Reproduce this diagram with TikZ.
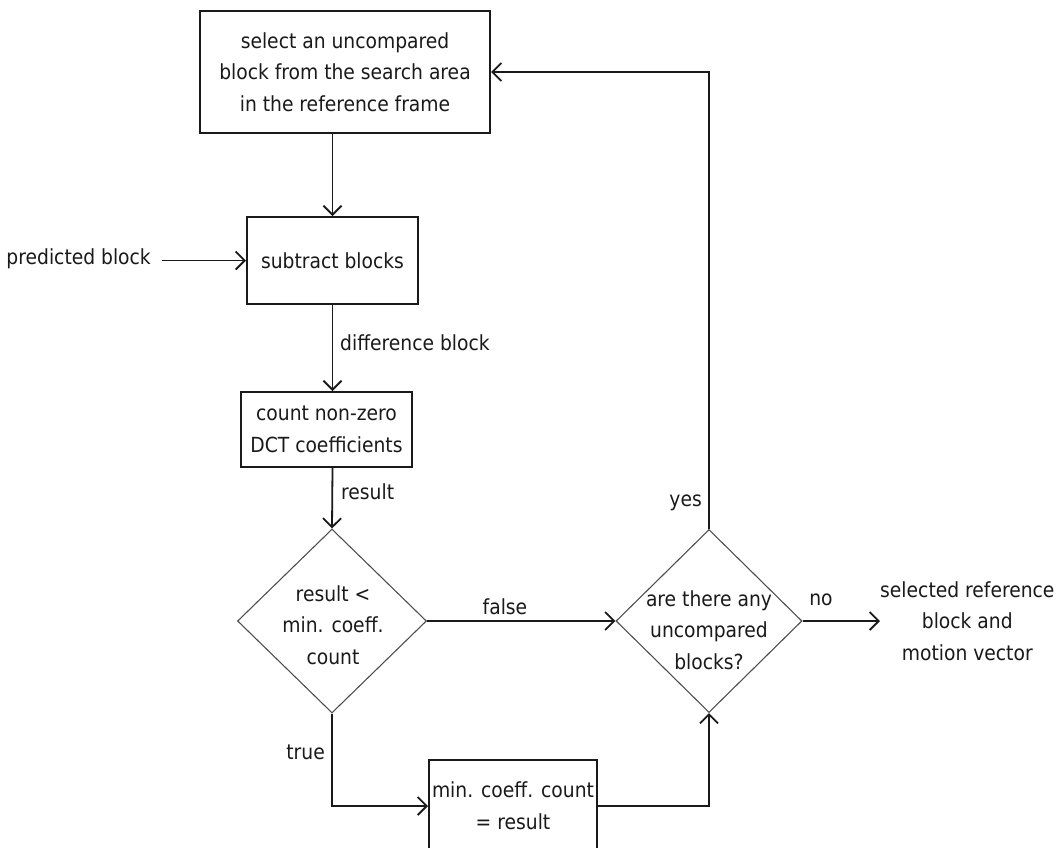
\documentclass[tikz,border=0pt]{standalone}
\usepackage{fontspec}
\setmainfont{DejaVu Sans Condensed}
\usetikzlibrary{arrows.meta,shapes.geometric}
\definecolor{ink}{HTML}{1A1A1A}
\definecolor{dia}{HTML}{505050}
\begin{document}
\begin{tikzpicture}[x=1pt,y=-1pt,
  every node/.style={font=\fontsize{20.8}{31.7}\selectfont, text=ink},
  box/.style={draw=ink, line width=2pt, rectangle, inner sep=0pt, align=center},
  dmd/.style={draw=dia, line width=1.1pt, diamond, inner sep=0pt},
  lbl/.style={inner sep=0pt},
  arr/.style={draw=ink, line width=1.8pt, -{Straight Barb[length=9pt,width=18pt]}}]
\useasboundingbox (0,0) rectangle (1058,847);
\clip (0,0) rectangle (1058,847);
\fill[white] (0,0) rectangle (1058,847);
% nodes
\node[box, minimum width=290pt, minimum height=122pt] (top) at (345,72) {select an uncompared\\block from the search area\\in the reference frame};
\node[box, minimum width=171pt, minimum height=87pt] (sub) at (332.5,260.5) {subtract blocks};
\node[box, minimum width=171pt, minimum height=75pt] (cnt) at (326.5,429.5) {count non-zero\\DCT coefficients};
\node[dmd, minimum width=189pt, minimum height=184pt] (d1) at (332,621) {};
\node[lbl, align=center] (t1) at (333,625) {result <\\min. coeff.\\count};
\node[dmd, minimum width=186pt, minimum height=183pt] (d2) at (709,621) {};
\node[lbl, align=center] (t2) at (709,630) {are there any\\uncompared\\blocks?};
\node[box, minimum width=168pt, minimum height=92pt] (min) at (513,806) {min. coeff. count\\= result};
\node[lbl, anchor=east] (pb) at (151,259) {predicted block};
\node[lbl, anchor=west, align=center] (out) at (880,621) {selected reference\\block and\\motion vector};
% labels
\node[lbl, anchor=west] (ldiff) at (340,343) {difference block};
\node[lbl, anchor=west] (lres) at (341,492) {result};
\node[lbl, anchor=east] (lyes) at (702,503) {yes};
\node[lbl] (lfalse) at (505,607) {false};
\node[lbl] (lno) at (821,600) {no};
\node[lbl, anchor=east] (ltrue) at (325,752) {true};
% connectors
\draw[arr] (top.south -| sub.north) -- (sub.north);
\draw[arr] ([xshift=11pt]pb.east |- sub.west) -- (sub.west);
\draw[arr] (sub.south) -- (sub.south |- cnt.north);
\draw[arr] (sub.south |- cnt.south) -- (d1.north);
\draw[arr] (d1.east) -- (d2.west);
\draw[arr] (d1.south) |- (min.west);
\draw[arr] (min.east) -| (d2.south);
\draw[arr] (d2.north) |- (top.east);
\draw[arr] (d2.east) -- (out.west);
\end{tikzpicture}
\end{document}
